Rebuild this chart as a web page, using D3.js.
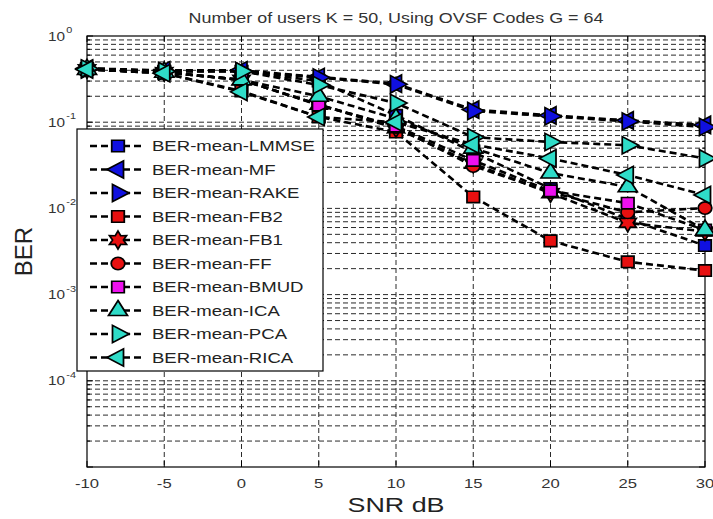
<!DOCTYPE html>
<html><head><meta charset="utf-8">
<script src="https://cdn.jsdelivr.net/npm/d3@7"></script>
<style>
body{margin:0;background:#fff}
svg{display:block}
text{font-family:"Liberation Sans",Arial,sans-serif}
</style>
</head><body>
<svg id="c" width="713" height="519"></svg>
<script>
// ---------------- data ----------------
const snr = [-10, -5, 0, 5, 10, 15, 20, 25, 30];
const xTickValues = [-10, -5, 0, 5, 10, 15, 20, 25, 30];
const yTickExponents = [0, -1, -2, -3, -4];
const seriesNames = ["BER-mean-LMMSE", "BER-mean-MF", "BER-mean-RAKE", "BER-mean-FB2", "BER-mean-FB1",
                     "BER-mean-FF", "BER-mean-BMUD", "BER-mean-ICA", "BER-mean-PCA", "BER-mean-RICA"];
const berLMMSE = [0.42, 0.39, 0.39, 0.30, 0.12, 0.045, 0.017, 0.0075, 0.0037];
const berMF    = [0.42, 0.40, 0.40, 0.335, 0.28, 0.14, 0.12, 0.105, 0.093];
const berRAKE  = [0.41, 0.39, 0.39, 0.33, 0.275, 0.135, 0.117, 0.102, 0.088];
const berFB2   = [0.41, 0.37, 0.23, 0.115, 0.077, 0.0136, 0.0042, 0.0024, 0.0019];
const berFB1   = [0.41, 0.38, 0.31, 0.16, 0.085, 0.033, 0.015, 0.0068, 0.0054];
const berFF    = [0.41, 0.38, 0.31, 0.16, 0.088, 0.031, 0.0155, 0.009, 0.0101];
const berBMUD  = [0.41, 0.38, 0.31, 0.158, 0.09, 0.036, 0.016, 0.0115, 0.0056];
const berICA   = [0.41, 0.38, 0.31, 0.20, 0.11, 0.05, 0.0257, 0.0178, 0.0056];
const berPCA   = [0.42, 0.39, 0.39, 0.27, 0.167, 0.067, 0.059, 0.054, 0.038];
const berRICA  = [0.41, 0.37, 0.225, 0.115, 0.10, 0.055, 0.038, 0.0244, 0.0143];
const titleText = "Number of users K = 50, Using OVSF Codes  G = 64";
const xLabelText = "SNR dB";
const yLabelText = "BER";

// ---------------- styles ----------------
const BLUE = "#1010e0", RED = "#e81010", MAG = "#ee10ee", CYAN = "#2fdcc8";
const seriesStyle = [
  {fill: BLUE, shape: "square"}, {fill: BLUE, shape: "left"}, {fill: BLUE, shape: "right"},
  {fill: RED, shape: "square"}, {fill: RED, shape: "hex"}, {fill: RED, shape: "circle"},
  {fill: MAG, shape: "square"}, {fill: CYAN, shape: "up"}, {fill: CYAN, shape: "right"}, {fill: CYAN, shape: "left"}
];
const seriesValues = [berLMMSE, berMF, berRAKE, berFB2, berFB1, berFF, berBMUD, berICA, berPCA, berRICA];
const SX = 1.28; // horizontal stretch of the original figure

const svg = d3.select("#c");
const L = 87, R = 705, T = 36, B = 467;
const x = d3.scaleLinear().domain([-10, 30]).range([L, R]);
const y = d3.scaleLog().domain([1e-5, 1]).range([B, T]);

// grid
const grid = svg.append("g").attr("stroke", "#2a2a2a").attr("stroke-width", 1).attr("stroke-dasharray", "5,3");
y.ticks().filter(v => v > 1.0001e-5 && v < 0.9999).forEach(v => {
  grid.append("line").attr("x1", L).attr("x2", R).attr("y1", y(v)).attr("y2", y(v));
});
xTickValues.slice(1, -1).forEach(v => {
  grid.append("line").attr("x1", x(v)).attr("x2", x(v)).attr("y1", T).attr("y2", B);
});

// ticks
const tk = svg.append("g").attr("stroke", "#000").attr("stroke-width", 1);
xTickValues.forEach(v => {
  tk.append("line").attr("x1", x(v)).attr("x2", x(v)).attr("y1", B).attr("y2", B - 6);
  tk.append("line").attr("x1", x(v)).attr("x2", x(v)).attr("y1", T).attr("y2", T + 6);
});
y.ticks().forEach(v => {
  const major = Math.abs(Math.log10(v) - Math.round(Math.log10(v))) < 1e-6;
  const len = major ? 6 : 3;
  tk.append("line").attr("x1", L).attr("x2", L + len).attr("y1", y(v)).attr("y2", y(v));
  tk.append("line").attr("x1", R).attr("x2", R - len).attr("y1", y(v)).attr("y2", y(v));
});

// frame
svg.append("rect").attr("x", L).attr("y", T).attr("width", R - L).attr("height", B - T)
  .attr("fill", "none").attr("stroke", "#000").attr("stroke-width", 1.2);

// stretched text helper
function stext(parent, tx, ty, str, size, anchor, sx, extra) {
  const g = parent.append("g").attr("transform", `translate(${tx},${ty}) scale(${sx},1)` + (extra || ""));
  return g.append("text").attr("font-size", size).attr("text-anchor", anchor).attr("fill", "#222").text(str);
}

// tick labels
xTickValues.forEach(v => {
  stext(svg, x(v), 488, String(v), 13, "middle", SX).attr("fill", "#333");
});
yTickExponents.forEach(e => {
  const g = svg.append("g").attr("transform", `translate(65,${y(Math.pow(10, e))}) scale(${SX},1)`);
  g.append("text").attr("font-size", 12).attr("text-anchor", "end").attr("y", 4.5).attr("fill", "#333").text("10");
  g.append("text").attr("font-size", 8.5).attr("text-anchor", "start").attr("x", 1).attr("y", -3).attr("fill", "#333").text(String(e));
});

// title and axis labels
stext(svg, (L + R) / 2, 23, titleText, 14, "middle", SX).attr("fill", "#333");
stext(svg, (L + R) / 2, 512, xLabelText, 21, "middle", SX);
stext(svg, 32, (T + B) / 2, yLabelText, 24, "middle", 1, " rotate(-90)");

// markers
function hexPath(r) {
  const pts = [];
  for (let i = 0; i < 12; i++) {
    const a = -Math.PI / 2 + i * Math.PI / 6;
    const rr = i % 2 === 0 ? r : r * 0.55;
    pts.push([rr * Math.cos(a), rr * Math.sin(a)]);
  }
  return "M" + pts.map(p => p[0].toFixed(2) + "," + p[1].toFixed(2)).join("L") + "Z";
}
function markerPath(shape) {
  switch (shape) {
    case "square": return d3.symbol(d3.symbolSquare, 130)();
    case "circle": return d3.symbol(d3.symbolCircle, 120)();
    case "hex": return hexPath(9);
    default: return d3.symbol(d3.symbolTriangle, 130)();
  }
}
function markerRot(shape) {
  return shape === "left" ? -90 : shape === "right" ? 90 : 0;
}
function drawMarker(parent, cx, cy, st) {
  parent.append("path").attr("d", markerPath(st.shape))
    .attr("transform", `translate(${cx},${cy}) scale(1.1,1) rotate(${markerRot(st.shape)})`)
    .attr("fill", st.fill).attr("stroke", "#000").attr("stroke-width", 1.6);
}

const line = d3.line().x((d, i) => x(snr[i])).y(d => y(d));
const plot = svg.append("g");
seriesValues.forEach((vals, si) => {
  const g = plot.append("g");
  g.append("path").attr("d", line(vals)).attr("fill", "none").attr("stroke", "#000")
    .attr("stroke-width", 2.6).attr("stroke-dasharray", "7,4");
  vals.forEach((v, i) => drawMarker(g, x(snr[i]), y(v), seriesStyle[si]));
});

// legend
const lg = svg.append("g");
lg.append("rect").attr("x", 77).attr("y", 129).attr("width", 246).attr("height", 242)
  .attr("fill", "#fff").attr("stroke", "#000").attr("stroke-width", 1.2);
seriesNames.forEach((name, i) => {
  const ly = 146 + i * 23.5;
  lg.append("line").attr("x1", 90).attr("x2", 144).attr("y1", ly).attr("y2", ly)
    .attr("stroke", "#000").attr("stroke-width", 2.6).attr("stroke-dasharray", "7,4");
  drawMarker(lg, 118, ly, seriesStyle[i]);
  stext(lg, 152, ly + 5, name, 14.5, "start", SX);
});
</script>
</body></html>
